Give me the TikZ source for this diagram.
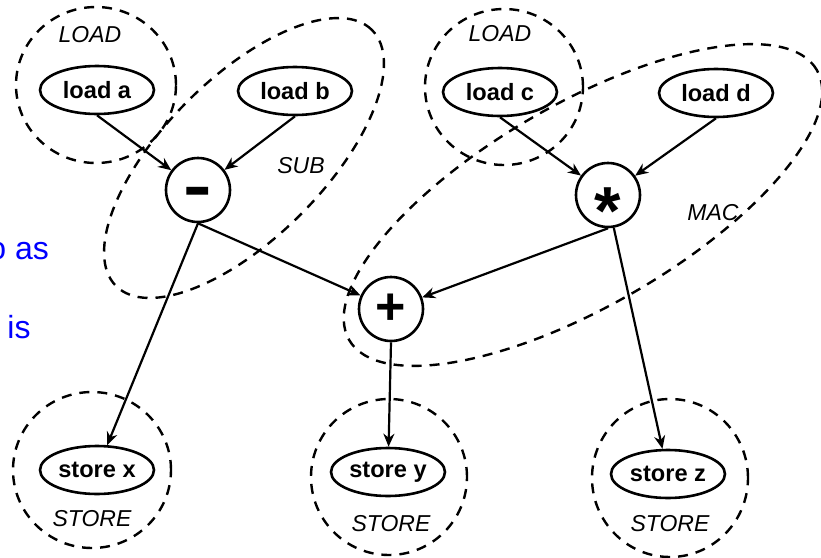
\documentclass[tikz,border=0pt]{standalone}
\usepackage{fontspec}
\setmainfont{Liberation Sans}
\usetikzlibrary{shapes.geometric,arrows.meta}
\begin{document}
\begin{tikzpicture}[x=0.5pt,y=-0.5pt,
  op/.style={ellipse, draw, line width=1.3pt, inner sep=0pt, minimum width=57pt, minimum height=24pt, font=\fontsize{11.8}{12}\selectfont\bfseries},
  opc/.style={circle, draw, line width=1.3pt, minimum size=32pt, inner sep=0pt, font=\bfseries},
  grp/.style={ellipse, draw, dash pattern=on 5pt off 4pt, line width=1.2pt, inner sep=0pt},
  lbl/.style={font=\fontsize{11.5}{12}\selectfont\itshape},
  arr/.style={-{Stealth[length=6.5pt,width=5.5pt]}, line width=1.1pt},
  note/.style={text=blue, font=\fontsize{16}{16}\selectfont, anchor=base west, inner sep=0pt}]
\useasboundingbox (0,0) rectangle (821,558);
% group outlines
\node[grp, minimum width=80pt, minimum height=78pt] (gla) at (96,85) {};
\node[grp, minimum width=79pt, minimum height=78pt] (glc) at (504,87) {};
\node[grp, minimum width=181pt, minimum height=80pt, rotate=45] (gsub) at (244,158) {};
\node[grp, minimum width=270pt, minimum height=101pt, rotate=30] (gmac) at (583,205) {};
\node[grp, minimum width=79pt, minimum height=78pt] (gsx) at (92,470) {};
\node[grp, minimum width=78pt, minimum height=78pt] (gsy) at (389,477) {};
\node[grp, minimum width=78pt, minimum height=79pt] (gsz) at (670,478) {};
% group labels
\node[lbl] (l1) at (90,35) {LOAD};
\node[lbl] (l2) at (500,34) {LOAD};
\node[lbl] (l3) at (301,166) {SUB};
\node[lbl] (l4) at (713,213) {MAC};
\node[lbl] (l5) at (92,519) {STORE};
\node[lbl] (l6) at (391,524) {STORE};
\node[lbl] (l7) at (670,524) {STORE};
% operation nodes
\node[op] (loada) at (97,90) {load a};
\node[op] (loadb) at (295,91) {load b};
\node[op] (loadc) at (500,92) {load c};
\node[op] (loadd) at (716,93) {load d};
\node[opc, font=\fontsize{22}{22}\selectfont\bfseries] (minus) at (198,190) {\raisebox{-0.5em}[0pt][0pt]{\scalebox{1}[1.8]{\textendash}}};
\node[opc, font=\fontsize{34}{34}\selectfont\bfseries] (star) at (608,195) {\raisebox{-0.58em}[0pt][0pt]{*}};
\node[opc, font=\fontsize{26}{26}\selectfont\bfseries] (plus) at (391,309) {+};
\node[op] (storex) at (97,470) {store x};
\node[op] (storey) at (388,472) {store y};
\node[op] (storez) at (668,474) {store z};
% connectors
\draw[arr] (loada.south) -- (minus);
\draw[arr] (loadb.south) -- (minus);
\draw[arr] (loadc.south) -- (star);
\draw[arr] (loadd.south) -- (star);
\draw[arr] (minus.south) -- (plus);
\draw[arr] (star.south) -- (plus);
\draw[arr] (minus.south) -- (storex);
\draw[arr] (star.-80) -- (storez);
\draw[arr] (plus.south) -- (storey);
% cut-off text at the left edge, as in the reference
\node[note] (t1) at (-12,259) {o as};
\node[note] (t2) at (7,338) {is};
\end{tikzpicture}
\end{document}
